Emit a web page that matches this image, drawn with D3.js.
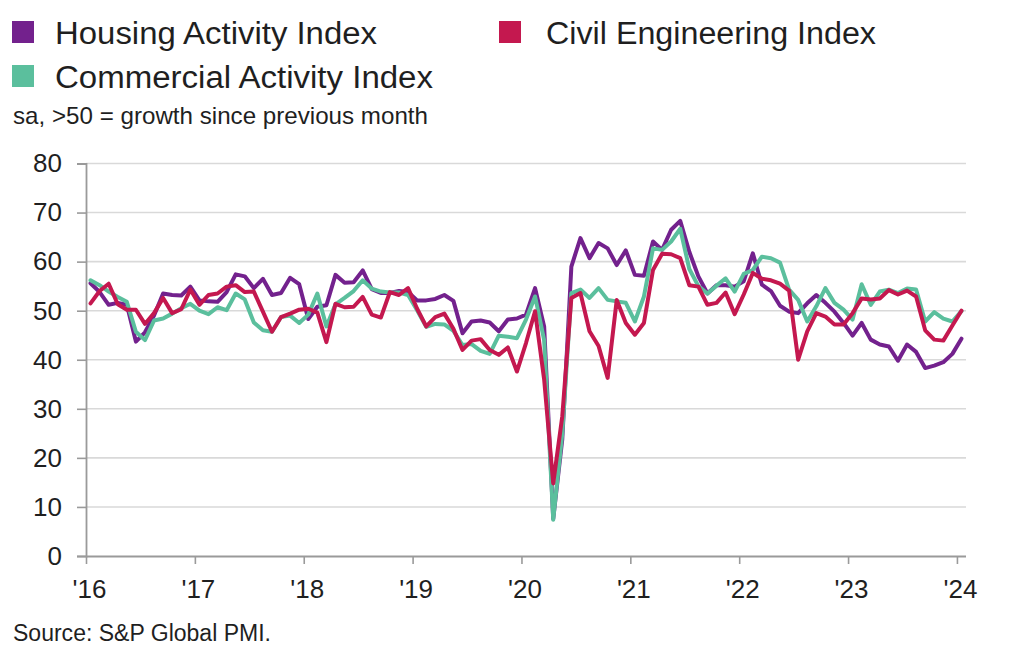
<!DOCTYPE html>
<html>
<head>
<meta charset="utf-8">
<script src="https://cdnjs.cloudflare.com/ajax/libs/d3/7.8.5/d3.min.js"></script>
<style>
  body { margin: 0; background: #fff; }
  svg { display: block; }
  text { font-family: "Liberation Sans", Arial, sans-serif; fill: #1f1f1f; }
</style>
</head>
<body>
<svg id="chart" width="1024" height="664"></svg>
<script>
// ---- data (monthly, Jan 2016 – Jan 2024) ----
const yearLabels = ["'16", "'17", "'18", "'19", "'20", "'21", "'22", "'23", "'24"];
const yTicks = [0, 10, 20, 30, 40, 50, 60, 70, 80];

const housing = [
  55.6, 53.8, 51.2, 51.6, 51.2, 43.7, 45.6, 49.0, 53.5, 53.2, 53.1, 54.9,
  52.1, 51.9, 51.8, 53.8, 57.4, 57.0, 54.6, 56.5, 53.2, 53.6, 56.7, 55.4,
  48.3, 50.8, 51.1, 57.3, 55.7, 55.8, 58.2, 54.4, 53.6, 53.6, 54.0, 53.8,
  52.1, 52.1, 52.4, 53.2, 52.0, 45.4, 47.8, 48.0, 47.6, 45.8, 48.2, 48.4,
  49.2, 54.6, 46.8, 7.6, 23.8, 59.0, 64.8, 60.7, 63.8, 62.7, 59.3, 62.3,
  57.3, 57.1, 64.1, 62.4, 66.5, 68.3, 62.0, 57.0, 53.5, 55.2, 55.2, 54.9,
  56.0, 61.7, 55.3, 54.0, 51.0, 49.8, 49.5, 51.5, 53.2, 51.6, 49.8, 47.5,
  44.9, 47.5, 44.1, 43.1, 42.7, 39.8, 43.1, 41.6, 38.3, 38.8, 39.5, 41.2,
  44.3
];
const commercial = [
  56.2, 55.2, 53.9, 52.8, 51.8, 45.7, 44.0, 48.0, 48.4, 49.4, 50.5, 51.4,
  50.0, 49.3, 50.7, 50.1, 53.5, 52.3, 47.6, 46.0, 45.7, 48.7, 49.0, 47.5,
  49.2, 53.5, 46.8, 51.3, 52.6, 54.0, 56.2, 54.5, 53.9, 53.7, 53.7, 53.2,
  50.1, 46.7, 47.3, 47.2, 45.9, 43.0, 43.2, 41.8, 41.2, 44.9, 44.7, 44.4,
  48.2, 52.9, 44.0, 7.4, 25.0, 53.6, 54.3, 52.6, 54.6, 52.2, 51.9, 51.6,
  47.8, 52.9, 62.7, 62.4, 64.1, 66.7, 58.5, 55.0, 53.5, 55.1, 56.6, 53.9,
  57.5, 58.3, 61.0, 60.7, 59.8, 54.3, 52.2, 47.8, 50.9, 54.6, 51.6, 50.2,
  48.2, 55.4, 51.2, 53.9, 54.3, 53.6, 54.5, 54.3, 47.8, 49.7, 48.4, 47.8,
  49.9
];
const civil = [
  51.5, 54.0, 55.5, 51.3, 50.2, 50.2, 47.3, 49.5, 52.6, 49.5, 50.3, 54.3,
  51.2, 53.2, 53.5, 54.9, 55.2, 53.8, 53.9, 49.8, 45.7, 48.7, 49.4, 50.2,
  50.4, 49.6, 43.6, 51.4, 50.7, 50.8, 52.8, 49.2, 48.6, 53.8, 53.2, 54.6,
  50.4, 46.8, 48.7, 49.4, 46.3, 42.0, 43.9, 44.2, 42.0, 41.0, 42.5, 37.6,
  43.4, 49.9, 36.0, 14.8, 28.5, 52.6, 53.6, 45.8, 42.8, 36.3, 52.2, 47.5,
  45.1, 47.5, 58.3, 61.6, 61.5, 60.7, 55.2, 54.9, 51.2, 51.6, 53.7, 49.3,
  53.3, 57.7, 56.5, 56.2, 55.5, 54.1, 40.0, 45.8, 49.5, 48.8, 47.2, 47.2,
  49.5, 52.5, 52.3, 52.5, 54.2, 53.3, 54.1, 52.9, 46.0, 44.1, 43.9, 47.0,
  50.0
];

const seriesNames = ["Housing Activity Index", "Commercial Activity Index", "Civil Engineering Index"];
const seriesColors = ["#73218d", "#5bbf9d", "#c4184f"];

// ---- setup ----
const svg = d3.select("#chart");
const months = d3.timeMonth.range(new Date(2016, 0, 1), new Date(2024, 1, 1));
const plotL = 86, plotR = 966, plotT = 163.5, plotB = 556;

const x = d3.scaleBand().domain(months).range([plotL, plotR]);
const xIdx = d3.scaleLinear().domain([0, months.length]).range([plotL, plotR]);
const y = d3.scaleLinear().domain([0, 80]).range([plotB, plotT]);

// gridlines
svg.append("g").selectAll("line").data(yTicks.filter(d => d > 0)).join("line")
  .attr("x1", plotL).attr("x2", plotR)
  .attr("y1", d => y(d)).attr("y2", d => y(d))
  .attr("stroke", "#d9d9d9").attr("stroke-width", 1.6);

// y axis
const yAxis = svg.append("g").attr("transform", `translate(${plotL},0)`)
  .call(d3.axisLeft(y).tickValues(yTicks).tickSize(9).tickPadding(15).tickFormat(d3.format("d")));
yAxis.select(".domain").attr("stroke", "#9a9a9a").attr("stroke-width", 1.8);
yAxis.selectAll(".tick line").attr("stroke", "#9a9a9a").attr("stroke-width", 1.6);
yAxis.selectAll(".tick text").attr("font-size", 26).attr("fill", "#1f1f1f")
  .style("font-family", '"Liberation Sans", Arial, sans-serif');

// x axis
const xAxis = svg.append("g").attr("transform", `translate(0,${plotB})`)
  .call(d3.axisBottom(xIdx).tickValues(d3.range(0, months.length, 12))
    .tickSize(8).tickPadding(16).tickFormat((d, i) => yearLabels[i]));
xAxis.select(".domain").attr("stroke", "#9a9a9a").attr("stroke-width", 2).attr("d", `M${plotL},0.5H${plotR}`);
xAxis.selectAll(".tick line").attr("stroke", "#9a9a9a").attr("stroke-width", 1.6);
xAxis.selectAll(".tick text").attr("font-size", 26).attr("fill", "#1f1f1f").attr("dx", 3)
  .style("font-family", '"Liberation Sans Narrow", "Liberation Sans", Arial, sans-serif');

// lines
const line = d3.line()
  .x((d, i) => x(months[i]) + x.bandwidth() / 2)
  .y(d => y(d))
  .curve(d3.curveLinear);

[housing, commercial, civil].forEach((s, k) => {
  svg.append("path").datum(s)
    .attr("fill", "none")
    .attr("stroke", seriesColors[k])
    .attr("stroke-width", 4)
    .attr("stroke-linejoin", "round")
    .attr("stroke-linecap", "round")
    .attr("d", line);
});

// legend
const legendItems = [
  { name: seriesNames[0], color: seriesColors[0], sx: 12, sy: 21, tx: 55, ty: 44, w: 322 },
  { name: seriesNames[2], color: seriesColors[2], sx: 499, sy: 21, tx: 546, ty: 44, w: 330 },
  { name: seriesNames[1], color: seriesColors[1], sx: 12, sy: 65, tx: 55, ty: 88, w: 378 }
];
const lg = svg.append("g");
legendItems.forEach(it => {
  lg.append("rect").attr("x", it.sx).attr("y", it.sy).attr("width", 22).attr("height", 22).attr("fill", it.color);
  lg.append("text").attr("x", it.tx).attr("y", it.ty).attr("font-size", 31)
    .attr("textLength", it.w).attr("lengthAdjust", "spacingAndGlyphs").text(it.name);
});

svg.append("text").attr("x", 13).attr("y", 124).attr("font-size", 24)
  .attr("textLength", 415).attr("lengthAdjust", "spacingAndGlyphs")
  .text("sa, >50 = growth since previous month");

svg.append("text").attr("x", 13).attr("y", 641).attr("font-size", 23)
  .attr("textLength", 258).attr("lengthAdjust", "spacingAndGlyphs")
  .text("Source: S&P Global PMI.");
</script>
</body>
</html>
